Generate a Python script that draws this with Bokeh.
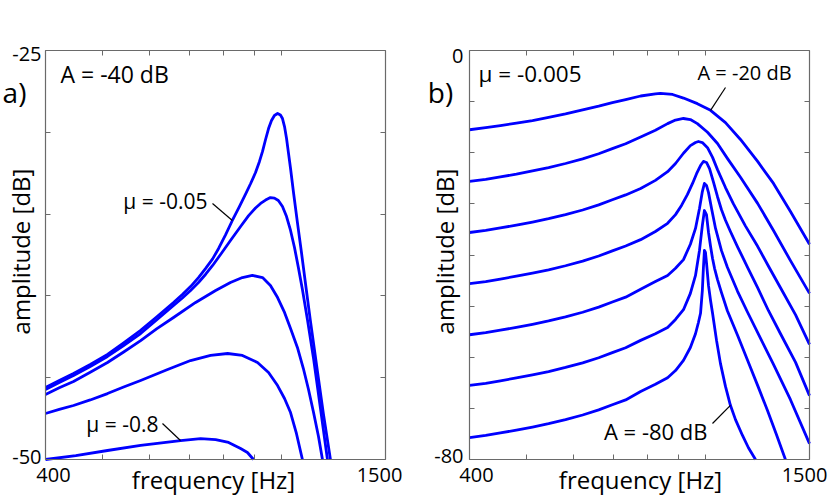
import math
from bokeh.plotting import figure
from bokeh.models import Range1d, LinearAxis, LogAxis, FixedTicker, Label
from bokeh.layouts import row
from bokeh.embed import file_html
from bokeh.resources import INLINE

# ---------------- data: panel a) (A = -40 dB, five values of mu) ----------------
A1_F = [400, 422, 446, 476, 509, 542, 579, 616, 658, 681, 703, 725, 745, 766, 784, 805, 827, 850, 871, 888,
        905, 919, 930, 941, 952, 963, 974, 986, 997, 1005, 1013, 1021, 1029, 1037, 1049, 1065, 1082, 1099, 1120, 1147,
        1178, 1211]
A1_DB = [-45.60, -45.17, -44.74, -44.19, -43.58, -42.88, -42.11, -41.29, -40.40, -39.91, -39.43, -38.88, -38.33, -37.74,
         -37.10, -36.28, -35.39, -34.54, -33.77, -33.13, -32.46, -31.78, -31.17, -30.44, -29.77, -29.28, -28.97, -28.85,
         -28.94, -29.16, -29.65, -30.38, -31.30, -32.21, -33.68, -35.51, -37.35, -39.24, -41.50, -44.19, -47.19, -50.00]
A2_F = [400, 422, 446, 476, 509, 542, 579, 616, 658, 681, 703, 725, 745, 766, 790, 821, 854, 881, 905, 923,
        941, 959, 974, 989, 1005, 1021, 1037, 1053, 1069, 1086, 1108, 1134, 1165, 1197]
A2_DB = [-45.72, -45.29, -44.87, -44.32, -43.70, -43.03, -42.30, -41.47, -40.59, -40.13, -39.67, -39.18, -38.69, -38.14,
         -37.47, -36.61, -35.76, -35.09, -34.63, -34.35, -34.14, -33.99, -34.02, -34.17, -34.54, -35.15, -36.00, -37.04,
         -38.26, -39.61, -41.50, -43.83, -46.88, -50.00]
A3_F = [400, 422, 446, 476, 509, 542, 579, 616, 658, 717, 775, 821, 860, 894, 930, 959, 986, 1013, 1037, 1065,
        1090, 1112, 1134, 1156, 1174]
A3_DB = [-46.03, -45.62, -45.23, -44.67, -44.07, -43.43, -42.73, -42.02, -41.32, -40.40, -39.67, -39.18, -38.88, -38.75,
         -38.88, -39.36, -40.10, -41.01, -41.99, -43.15, -44.44, -45.72, -47.13, -48.59, -50.00]
A4_F = [400, 422, 446, 476, 509, 542, 579, 643, 703, 760, 812, 860, 912, 952, 986, 1013, 1037, 1061, 1086]
A4_DB = [-47.19, -46.94, -46.70, -46.36, -45.97, -45.57, -45.17, -44.50, -43.95, -43.64, -43.52, -43.64, -44.07, -44.68,
         -45.48, -46.27, -47.13, -48.41, -50.00]
A5_F = [400, 450, 509, 579, 676, 731, 775, 815, 854, 877, 898]
A5_DB = [-50.00, -49.76, -49.45, -49.14, -48.84, -48.72, -48.78, -48.96, -49.33, -49.57, -50.00]

# ---------------- data: panel b) (mu = -0.005, A = -20 ... -80 dB) ----------------
B1_F = [400, 426, 451, 480, 511, 544, 581, 621, 661, 697, 734, 778, 824, 840, 881, 919, 970, 1021, 1082, 1147,
        1226, 1304, 1393, 1500]
B1_DB = [-15.5, -15.1, -14.7, -14.2, -13.7, -13.1, -12.4, -11.6, -10.9, -10.2, -9.6, -8.9, -8.5, -8.4, -8.6, -9.3,
         -10.4, -11.7, -14.1, -17.4, -21.7, -26.0, -31.5, -37.9]
B2_F = [400, 426, 451, 480, 511, 544, 581, 621, 661, 697, 734, 778, 824, 864, 891, 919, 944, 970, 1009, 1049,
        1090, 1147, 1226, 1304, 1393, 1500]
B2_DB = [-25.6, -25.2, -24.7, -24.2, -23.55, -22.9, -22.1, -21.2, -20.2, -19.2, -18.25, -16.9, -15.6, -14.3, -13.6,
         -13.3, -13.5, -14.3, -16.0, -18.2, -21.1, -24.8, -29.9, -35.2, -41.1, -47.5]
B3_F = [400, 426, 451, 480, 511, 544, 581, 621, 661, 697, 734, 778, 824, 864, 891, 919, 944, 963, 974, 989,
        1009, 1029, 1049, 1082, 1116, 1169, 1226, 1279, 1340, 1421, 1500]
B3_DB = [-35.6, -35.2, -34.7, -34.15, -33.55, -32.9, -32.1, -31.2, -30.2, -29.2, -28.25, -27.0, -25.4, -23.7, -22.1,
         -20.1, -18.6, -18.0, -17.8, -18.0, -19.0, -20.9, -23.3, -26.8, -30.0, -34.3, -38.3, -42.2, -46.4, -51.7, -57.5]
B4_F = [400, 426, 451, 480, 511, 544, 581, 621, 661, 697, 734, 778, 824, 864, 891, 912, 933, 952, 967, 982,
        993, 1005, 1017, 1033, 1049, 1065, 1082, 1103, 1134, 1179, 1226, 1279, 1340, 1421, 1500]
B4_DB = [-45.6, -45.2, -44.7, -44.15, -43.55, -42.9, -42.1, -41.2, -40.2, -39.2, -38.25, -37.0, -35.4, -33.8, -32.1,
         -30.3, -28.2, -26.0, -24.1, -22.5, -21.7, -21.9, -23.1, -25.8, -28.6, -31.1, -33.2, -35.4, -38.4, -42.4, -46.4,
         -50.9, -55.4, -61.0, -67.5]
B5_F = [400, 426, 451, 480, 511, 544, 581, 621, 661, 697, 734, 778, 824, 864, 891, 919, 944, 963, 978, 989,
        997, 1005, 1013, 1025, 1041, 1065, 1090, 1134, 1179, 1240, 1304, 1393, 1500]
B5_DB = [-55.6, -55.2, -54.7, -54.15, -53.55, -52.9, -52.1, -51.2, -50.2, -49.2, -48.25, -46.7, -45.2, -44.0, -42.6,
         -40.9, -37.9, -34.8, -30.9, -27.6, -26.0, -26.4, -27.8, -30.9, -34.8, -39.1, -42.4, -47.1, -51.2, -56.3, -61.4,
         -68.3, -76.9]
B6_F = [400, 426, 451, 480, 511, 544, 581, 621, 661, 697, 734, 778, 824, 864, 891, 919, 944, 963, 978, 989,
        997, 1005, 1013, 1021, 1029, 1037, 1049, 1065, 1090, 1134, 1179, 1226, 1274, 1319, 1366]
B6_DB = [-65.5, -65.1, -64.6, -64.05, -63.45, -62.8, -62.0, -61.1, -60.1, -59.1, -58.15, -56.7, -55.4, -54.2, -52.6,
         -50.7, -47.5, -44.0, -39.1, -34.2, -31.3, -32.1, -35.6, -38.3, -40.7, -42.6, -44.8, -47.3, -50.9, -55.7, -60.6,
         -65.5, -70.4, -75.1, -80.0]
B7_F = [400, 426, 451, 480, 511, 544, 581, 621, 661, 697, 734, 778, 824, 864, 891, 919, 944, 963, 974, 982,
        989, 993, 997, 1001, 1005, 1013, 1021, 1029, 1045, 1061, 1082, 1103, 1125, 1156, 1183, 1216]
B7_DB = [-75.7, -75.3, -74.8, -74.25, -73.65, -73.0, -72.2, -71.3, -70.3, -69.3, -68.35, -66.7, -65.3, -64.0, -62.6,
         -60.6, -58.1, -55.4, -53.2, -51.4, -46.9, -42.6, -39.1, -39.5, -41.5, -46.0, -48.9, -51.4, -56.7, -61.2, -65.7,
         -69.4, -72.2, -75.3, -77.7, -80.0]

X_MIN, X_MAX = 400, 1500
X_MINOR = [400, 500, 600, 700, 800, 900, 1000, 1500]
X_LABELS = ["400", "1500"]
A_Y = (-50, -25)
A_Y_MINOR = [-50, -45, -40, -35, -30, -25]
A_Y_LABELS = ["-25", "-50"]
B_Y = (-80, 0)
B_Y_MINOR = [-80, -70, -60, -50, -40, -30, -20, -10, 0]
B_Y_LABELS = ["0", "-80"]

FONT = "Open Sans"
BLUE = "#0000ff"
GRAY = "#6a6a6a"

# ---------------- layout geometry (page pixels) ----------------
BOX_W, BOX_H = 340, 409
TOP = 50
FIG_H = 500
A_LEFT, A_FIG = 45, (0, 425)
B_LEFT, B_FIG = 469, (425, 830)


def mk_maps(left, y0, y1):
    span = math.log10(X_MAX / X_MIN)

    def fx(px):
        return X_MIN * 10 ** ((px - left) / BOX_W * span)

    def fy(py):
        return y1 - (py - TOP) * (y1 - y0) / BOX_H
    return fx, fy


def make_panel(left, figx, ylim, yminor):
    fx, fy = mk_maps(left, *ylim)
    w = figx[1] - figx[0]
    p = figure(x_axis_type="log",
               x_range=Range1d(fx(figx[0]), fx(figx[1])),
               y_range=Range1d(fy(FIG_H), fy(0)),
               frame_width=w, frame_height=FIG_H,
               x_axis_location=None, y_axis_location=None,
               min_border=0, min_border_left=0, min_border_right=0,
               min_border_top=0, min_border_bottom=0,
               output_backend="svg", toolbar_location=None)
    p.xgrid.visible = False
    p.ygrid.visible = False
    p.outline_line_color = None
    p.background_fill_color = "white"
    p.border_fill_color = "white"
    axes = [
        (LogAxis(fixed_location=ylim[0], bounds=(X_MIN, X_MAX),
                 ticker=FixedTicker(ticks=[], minor_ticks=X_MINOR)), "below"),
        (LogAxis(fixed_location=ylim[1], bounds=(X_MIN, X_MAX),
                 ticker=FixedTicker(ticks=[], minor_ticks=X_MINOR)), "above"),
        (LinearAxis(fixed_location=X_MIN, bounds=ylim,
                    ticker=FixedTicker(ticks=[], minor_ticks=yminor)), "left"),
        (LinearAxis(fixed_location=X_MAX, bounds=ylim,
                    ticker=FixedTicker(ticks=[], minor_ticks=yminor)), "right"),
    ]
    for ax, side in axes:
        ax.minor_tick_in = 5
        ax.minor_tick_out = 0
        ax.major_tick_in = 0
        ax.major_tick_out = 0
        ax.minor_tick_line_color = GRAY
        ax.axis_line_color = GRAY
        ax.axis_line_width = 1.2
        p.add_layout(ax, side)
    return p, fx, fy


def lab(p, fx, fy, px, py, text, size, align="left", angle=0.0):
    p.add_layout(Label(x=fx(px), y=fy(py), text=text,
                       text_font=FONT, text_font_size=size, text_color="black",
                       text_align=align, text_baseline="middle", angle=angle))


# ---------------- panel a ----------------
pa, fxa, fya = make_panel(A_LEFT, A_FIG, A_Y, A_Y_MINOR)
for fq, db in [(A1_F, A1_DB), (A2_F, A2_DB), (A3_F, A3_DB), (A4_F, A4_DB), (A5_F, A5_DB)]:
    pa.line(fq, db, line_color=BLUE, line_width=2.8, line_join="round")
i1, i5 = A1_F.index(827), A5_F.index(676)
pa.segment(x0=[fxa(212), fxa(162)], y0=[fya(203), fya(423)],
           x1=[A1_F[i1], A5_F[i5]], y1=[A1_DB[i1], A5_DB[i5]],
           line_color="black", line_width=1.2)
lab(pa, fxa, fya, 14, 91, "a)", "28px", "center")
lab(pa, fxa, fya, 60, 73, "A = -40 dB", "23px")
lab(pa, fxa, fya, 207, 200, "\u03bc = -0.05", "21px", "right")
lab(pa, fxa, fya, 158, 423, "\u03bc = -0.8", "21px", "right")
lab(pa, fxa, fya, 20, 251, "amplitude [dB]", "24px", "center", math.pi / 2)
lab(pa, fxa, fya, 213, 479, "frequency [Hz]", "24px", "center")
lab(pa, fxa, fya, 41, 53, A_Y_LABELS[0], "20px", "right")
lab(pa, fxa, fya, 41, 456, A_Y_LABELS[1], "20px", "right")
lab(pa, fxa, fya, 53, 474, X_LABELS[0], "20px", "center")
lab(pa, fxa, fya, 379, 474, X_LABELS[1], "20px", "center")

# ---------------- panel b ----------------
pb, fxb, fyb = make_panel(B_LEFT, B_FIG, B_Y, B_Y_MINOR)
for fq, db in [(B1_F, B1_DB), (B2_F, B2_DB), (B3_F, B3_DB), (B4_F, B4_DB),
               (B5_F, B5_DB), (B6_F, B6_DB), (B7_F, B7_DB)]:
    pb.line(fq, db, line_color=BLUE, line_width=2.8, line_join="round")
j1, j7 = B1_F.index(1021), B7_F.index(1103)
pb.segment(x0=[fxb(725), fxb(712)], y0=[fyb(87), fyb(423)],
           x1=[B1_F[j1], B7_F[j7]], y1=[B1_DB[j1], B7_DB[j7]],
           line_color="black", line_width=1.2)
lab(pb, fxb, fyb, 440, 91, "b)", "28px", "center")
lab(pb, fxb, fyb, 478, 73, "\u03bc = -0.005", "22.5px")
lab(pb, fxb, fyb, 697, 72, "A = -20 dB", "20px")
lab(pb, fxb, fyb, 707, 430, "A = -80 dB", "22px", "right")
lab(pb, fxb, fyb, 444, 251, "amplitude [dB]", "24px", "center", math.pi / 2)
lab(pb, fxb, fyb, 640, 479, "frequency [Hz]", "24px", "center")
lab(pb, fxb, fyb, 463, 55, B_Y_LABELS[0], "20px", "right")
lab(pb, fxb, fyb, 463, 455, B_Y_LABELS[1], "20px", "right")
lab(pb, fxb, fyb, 476, 474, X_LABELS[0], "20px", "center")
lab(pb, fxb, fyb, 804, 474, X_LABELS[1], "20px", "center")

layout = row(pa, pb)
open("out.html", "w").write(file_html(layout, INLINE))
